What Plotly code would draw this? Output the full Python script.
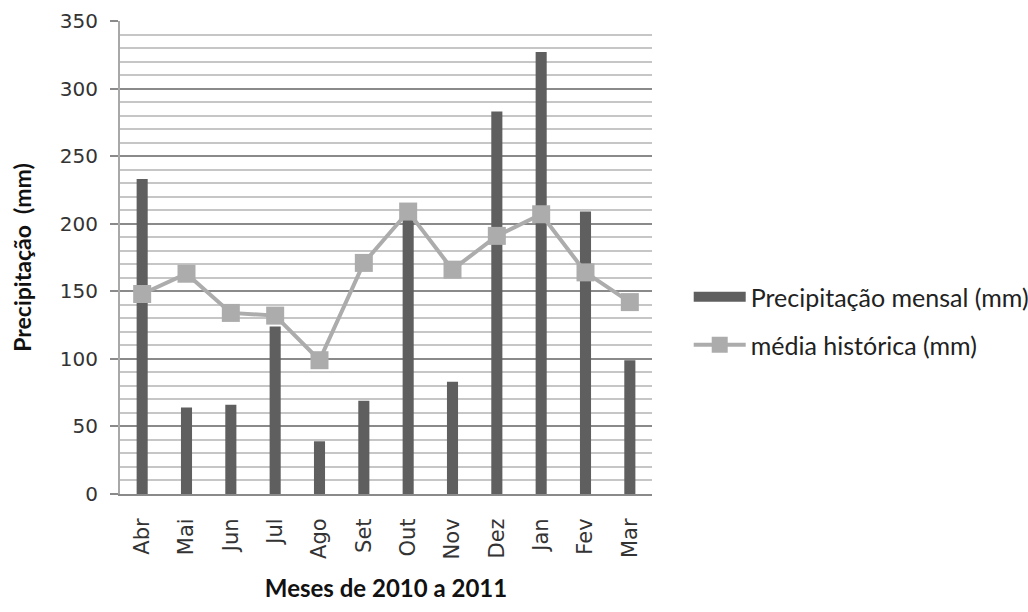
import plotly.graph_objects as go

months = ["Abr", "Mai", "Jun", "Jul", "Ago", "Set", "Out", "Nov", "Dez", "Jan", "Fev", "Mar"]
precip_mensal = [233, 64, 66, 124, 39, 69, 207, 83, 283, 327, 209, 99]
media_historica = [148, 163, 134, 132, 99, 171, 209, 166, 191, 207, 164, 142]
y_ticks = [0, 50, 100, 150, 200, 250, 300, 350]

BAR_COLOR = "#5f5f5f"
LINE_COLOR = "#acacac"

fig = go.Figure()
fig.add_trace(go.Bar(
    x=months, y=precip_mensal, name="Precipitação mensal (mm)",
    marker=dict(color=BAR_COLOR, line=dict(width=0)), width=0.25,
    showlegend=False,
))
# legend entry for the bar series (wide rectangle swatch like the original)
fig.add_trace(go.Scatter(
    x=[None], y=[None], name="Precipitação mensal (mm)", mode="lines",
    line=dict(color=BAR_COLOR, width=13), legend="legend", hoverinfo="skip",
))
fig.add_trace(go.Scatter(
    x=months, y=media_historica, name="média histórica (mm)",
    mode="lines+markers",
    line=dict(color=LINE_COLOR, width=4),
    marker=dict(symbol="square", size=18, color=LINE_COLOR),
    legend="legend2",
))

tick_font_y = dict(family="DejaVu Sans", size=20, color="#333333")
tick_font_x = dict(family="DejaVu Sans", size=21, color="#333333")
legend_font = dict(family="Lato", size=25, color="#222222")
fig.update_layout(
    width=1028, height=612,
    margin=dict(l=120, r=376, t=21, b=118, autoexpand=False),
    paper_bgcolor="white", plot_bgcolor="white",
    bargap=0.75,
    showlegend=True,
    legend=dict(x=1.069, y=(494 - 297) / 473, xanchor="left", yanchor="middle",
                font=legend_font, itemwidth=52, bgcolor="rgba(0,0,0,0)"),
    legend2=dict(x=1.069, y=(494 - 345) / 473, xanchor="left", yanchor="middle",
                 font=legend_font, itemwidth=52, bgcolor="rgba(0,0,0,0)"),
    xaxis=dict(
        type="category", range=[-0.5, 11.5], tickangle=-90, tickfont=tick_font_x,
        showline=True, linecolor="#8a8a8a", linewidth=2,
        showgrid=False, ticks="", ticklabelstandoff=14,
        title=dict(text="<b>Meses de 2010 a 2011</b>",
                   font=dict(family="Lato", size=24, color="#111111"), standoff=22),
    ),
    yaxis=dict(
        range=[0, 350], tickvals=y_ticks, tickfont=tick_font_y,
        showline=True, linecolor="#a8a8a8", linewidth=2,
        ticks="outside", ticklen=8, tickcolor="#8a8a8a", tickwidth=2,
        showgrid=True, gridcolor="#8a8a8a", gridwidth=1.5,
        zeroline=False, ticklabelstandoff=8,
        minor=dict(dtick=10, showgrid=True, gridcolor="#c6c6c6", gridwidth=1.5, ticks=""),
        title=dict(text="<b>Precipitação  (mm)</b>",
                   font=dict(family="Lato", size=23, color="#111111"), standoff=22),
    ),
)

fig.write_html("out.html")
